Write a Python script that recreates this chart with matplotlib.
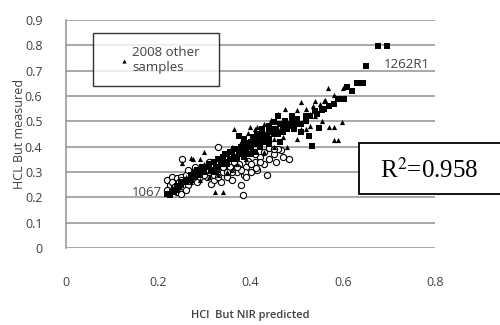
import matplotlib
matplotlib.use("Agg")
import matplotlib.pyplot as plt
from matplotlib.patches import Rectangle

# data (HCl But: NIR predicted vs measured)
sq_x = [0.676, 0.696, 0.650, 0.643, 0.630, 0.610, 0.602, 0.548, 0.526, 0.533,
        0.570, 0.555, 0.545, 0.530, 0.520, 0.510, 0.500, 0.490, 0.480, 0.470,
        0.465, 0.455, 0.450, 0.440, 0.435, 0.430, 0.425, 0.420, 0.410, 0.405,
        0.400, 0.395, 0.390, 0.385, 0.380, 0.375, 0.370, 0.365, 0.360, 0.355,
        0.350, 0.345, 0.340, 0.335, 0.330, 0.325, 0.320, 0.315, 0.310, 0.300,
        0.295, 0.290, 0.285, 0.280, 0.270, 0.260, 0.250, 0.245, 0.240, 0.235,
        0.230, 0.225, 0.220, 0.460, 0.475, 0.440, 0.420, 0.385, 0.410, 0.495,
        0.510, 0.465, 0.440, 0.452, 0.490, 0.376, 0.396, 0.350, 0.370, 0.400,
        0.300, 0.310, 0.320, 0.330, 0.340, 0.350, 0.360, 0.370, 0.380, 0.390,
        0.400, 0.410, 0.420, 0.430, 0.440, 0.450, 0.460, 0.470, 0.480, 0.490,
        0.500, 0.520, 0.540, 0.560, 0.580, 0.590, 0.620, 0.270, 0.260, 0.250,
        0.240, 0.280, 0.290, 0.355, 0.365, 0.385, 0.415, 0.425, 0.345, 0.335]
sq_y = [0.797, 0.797, 0.719, 0.651, 0.651, 0.636, 0.588, 0.474, 0.443, 0.403,
        0.560, 0.545, 0.530, 0.520, 0.500, 0.490, 0.510, 0.480, 0.470, 0.460,
        0.490, 0.470, 0.450, 0.460, 0.440, 0.420, 0.450, 0.430, 0.410, 0.440,
        0.420, 0.400, 0.390, 0.410, 0.380, 0.370, 0.390, 0.360, 0.380, 0.350,
        0.370, 0.340, 0.360, 0.330, 0.350, 0.320, 0.340, 0.310, 0.330, 0.300,
        0.320, 0.290, 0.310, 0.280, 0.270, 0.260, 0.250, 0.240, 0.230, 0.220,
        0.220, 0.210, 0.215, 0.520, 0.500, 0.480, 0.400, 0.360, 0.380, 0.470,
        0.460, 0.420, 0.410, 0.498, 0.520, 0.442, 0.414, 0.330, 0.350, 0.370,
        0.310, 0.320, 0.300, 0.320, 0.350, 0.330, 0.350, 0.360, 0.400, 0.370,
        0.400, 0.430, 0.420, 0.440, 0.430, 0.470, 0.450, 0.480, 0.490, 0.500,
        0.490, 0.520, 0.540, 0.550, 0.570, 0.590, 0.620, 0.290, 0.270, 0.260,
        0.245, 0.300, 0.300, 0.380, 0.390, 0.430, 0.450, 0.470, 0.370, 0.345]

tri_x = [0.567, 0.600, 0.580, 0.580, 0.590, 0.598, 0.570, 0.582, 0.562, 0.550,
         0.540, 0.535, 0.520, 0.510, 0.500, 0.490, 0.475, 0.460, 0.445, 0.430,
         0.410, 0.395, 0.365, 0.398, 0.415, 0.300, 0.276, 0.290, 0.252, 0.272,
         0.322, 0.341, 0.350, 0.370, 0.390, 0.430, 0.450, 0.470, 0.480, 0.500,
         0.360, 0.330, 0.310, 0.290, 0.270, 0.240, 0.230, 0.340, 0.420, 0.440,
         0.460, 0.520, 0.530, 0.510, 0.555, 0.495, 0.380, 0.400,
         0.320, 0.340, 0.360, 0.380, 0.430, 0.470, 0.490, 0.530, 0.560, 0.450,
         0.410, 0.370, 0.330, 0.280, 0.260, 0.300, 0.520, 0.540]
tri_y = [0.632, 0.630, 0.604, 0.426, 0.426, 0.498, 0.478, 0.478, 0.585, 0.570,
         0.580, 0.560, 0.550, 0.575, 0.545, 0.525, 0.550, 0.530, 0.505, 0.490,
         0.470, 0.455, 0.470, 0.478, 0.478, 0.379, 0.351, 0.351, 0.335, 0.355,
         0.221, 0.221, 0.300, 0.330, 0.350, 0.380, 0.400, 0.440, 0.400, 0.430,
         0.310, 0.290, 0.280, 0.270, 0.260, 0.250, 0.240, 0.330, 0.440, 0.460,
         0.470, 0.500, 0.480, 0.470, 0.500, 0.505, 0.400, 0.390,
         0.340, 0.370, 0.400, 0.420, 0.460, 0.500, 0.490, 0.530, 0.580, 0.430,
         0.410, 0.370, 0.310, 0.280, 0.280, 0.330, 0.470, 0.520]

circ_x = [0.330, 0.252, 0.383, 0.483, 0.467, 0.380, 0.315, 0.220, 0.230, 0.240,
          0.250, 0.260, 0.225, 0.235, 0.245, 0.255, 0.265, 0.270, 0.280, 0.285,
          0.290, 0.300, 0.305, 0.310, 0.320, 0.325, 0.335, 0.340, 0.350, 0.355,
          0.360, 0.370, 0.375, 0.385, 0.390, 0.400, 0.410, 0.415, 0.420, 0.430,
          0.435, 0.440, 0.450, 0.455, 0.460, 0.470, 0.440, 0.430, 0.410, 0.395,
          0.365, 0.345, 0.330, 0.310, 0.280, 0.265, 0.240, 0.250, 0.260, 0.413,
          0.387, 0.230, 0.250, 0.270, 0.290, 0.300, 0.320, 0.330, 0.340, 0.360,
          0.380, 0.400, 0.420, 0.370, 0.350, 0.310, 0.450, 0.390, 0.220, 0.235]
circ_y = [0.400, 0.350, 0.209, 0.350, 0.387, 0.249, 0.253, 0.270, 0.280, 0.275,
          0.280, 0.290, 0.250, 0.255, 0.260, 0.240, 0.250, 0.300, 0.290, 0.260,
          0.310, 0.320, 0.280, 0.300, 0.270, 0.310, 0.260, 0.300, 0.280, 0.320,
          0.270, 0.300, 0.330, 0.290, 0.320, 0.300, 0.340, 0.310, 0.360, 0.330,
          0.290, 0.350, 0.370, 0.340, 0.390, 0.360, 0.395, 0.380, 0.370, 0.345,
          0.340, 0.350, 0.330, 0.340, 0.320, 0.310, 0.220, 0.215, 0.230, 0.316,
          0.300, 0.260, 0.270, 0.280, 0.280, 0.290, 0.290, 0.280, 0.320, 0.300,
          0.310, 0.330, 0.340, 0.320, 0.300, 0.310, 0.390, 0.280, 0.230, 0.240]

x_ticks = [0, 0.2, 0.4, 0.6, 0.8]
y_ticks = [0, 0.1, 0.2, 0.3, 0.4, 0.5, 0.6, 0.7, 0.8, 0.9]

plt.rcParams['font.family'] = ['Open Sans', 'DejaVu Sans']
grey = '#9a9a9a'
txt = '#404040'

fig = plt.figure(figsize=(5, 3.25), dpi=100)
ax = fig.add_axes([0.132, 0.237, 0.738, 0.701])

ax.scatter(circ_x, circ_y, s=20, marker='o', facecolors='white',
           edgecolors='black', linewidths=0.8, zorder=3)
ax.scatter(sq_x, sq_y, s=18, marker='s', color='black', linewidths=0, zorder=4)
ax.scatter(tri_x, tri_y, s=14, marker='^', color='black', linewidths=0, zorder=5,
           label='2008 other  \nsamples')

ax.text(0.689, 0.723, '1262R1', fontsize=9.5, color=txt, va='center', ha='left')
ax.text(0.143, 0.221, '1067', fontsize=9.5, color=txt, va='center', ha='left', zorder=2)

ax.set_xlim(0, 0.8)
ax.set_ylim(0, 0.9)
ax.set_xticks(x_ticks)
ax.set_xticklabels(['0', '0.2', '0.4', '0.6', '0.8'])
ax.set_yticks(y_ticks)
ax.set_yticklabels(['0', '0.1', '0.2', '0.3', '0.4', '0.5', '0.6', '0.7', '0.8', '0.9'])
ax.tick_params(axis='both', length=0, labelsize=9, labelcolor=txt)
ax.tick_params(axis='x', pad=20.5)
ax.tick_params(axis='y', pad=17)

ax.grid(axis='y', color=grey, linewidth=1.2)
ax.set_axisbelow(True)
for s in ['top', 'right', 'bottom']:
    ax.spines[s].set_visible(False)
ax.spines['left'].set_color(grey)
ax.spines['left'].set_linewidth(1.2)

ax.set_xlabel('HCl  But NIR predicted', fontsize=8, fontweight='semibold', color=txt,
              labelpad=15)
ax.yaxis.set_label_coords(-0.108, 0.5)
ax.set_ylabel('HCL But measured', fontsize=9, color=txt)

leg = ax.legend(loc='upper left', bbox_to_anchor=(0.072, 0.943), borderaxespad=0,
                fontsize=9.5, frameon=True, fancybox=False, edgecolor='black',
                handlelength=2.8, handletextpad=-0.76, borderpad=0.95, markerscale=0.8)
leg.get_frame().set_linewidth(1.0)
for t in leg.get_texts():
    t.set_color(txt)

# R^2 box, runs off the right edge like the original
fig.patches.append(Rectangle((359 / 500, 1 - 194 / 325), 0.32, 51 / 325,
                             transform=fig.transFigure, facecolor='white',
                             edgecolor='black', linewidth=1.3, zorder=10))
fig.text(380 / 500, 1 - 170 / 325, 'R$^2$=0.958', fontsize=18, va='center', ha='left',
         family='Liberation Serif', math_fontfamily='stix', zorder=11)

fig.savefig('out.png', dpi=100)
